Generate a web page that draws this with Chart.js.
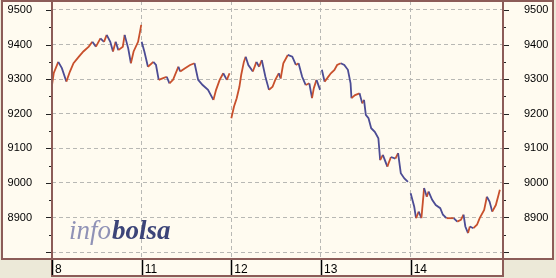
<!DOCTYPE html>
<html>
<head>
<meta charset="utf-8">
<script src="https://cdn.jsdelivr.net/npm/chart.js@4.4.1/dist/chart.umd.min.js"></script>
<style>
  html, body { margin: 0; padding: 0; background: #ece9d8; }
</style>
</head>
<body>
<canvas id="ibex" width="556" height="278"></canvas>
<script>
// Session labels (trading days) and y axis ticks
const days = ['8', '11', '12', '13', '14'];
const yTicks = [8800, 8900, 9000, 9100, 9200, 9300, 9400, 9500];
const yLabels = ['', '8900', '9000', '9100', '9200', '9300', '9400', '9500'];
const yMinorTicks = [8850, 8950, 9050, 9150, 9250, 9350, 9450];

// Intraday readings: position within the session (0..1) and index value
const pos8 = [0, .02, .07, .11, .16, .20, .24, .30, .35, .41, .45, .49, .54, .58, .61, .65, .68, .71, .74, .79, .81, .85, .88, .91, .96, .985, .995];
const val8 = [9283, 9318, 9350, 9332, 9293, 9322, 9346, 9365, 9380, 9394, 9408, 9394, 9418, 9408, 9428, 9408, 9380, 9408, 9384, 9394, 9428, 9389, 9346, 9380, 9408, 9442, 9457];

const pos11 = [0, .03, .07, .13, .16, .19, .24, .28, .31, .35, .41, .43, .48, .54, .59, .63, .68, .74, .80, .83, .87, .91, .95, .98];
const val11 = [9408, 9380, 9336, 9350, 9341, 9298, 9303, 9307, 9288, 9298, 9336, 9322, 9331, 9341, 9346, 9298, 9283, 9269, 9240, 9269, 9298, 9317, 9298, 9317];

const pos12 = [0, .03, .06, .09, .11, .14, .16, .19, .24, .28, .31, .34, .38, .42, .46, .49, .53, .55, .58, .63, .68, .72, .75, .79, .83, .87, .90, .92, .95, .99];
const val12 = [9187, 9221, 9245, 9278, 9312, 9350, 9365, 9341, 9322, 9350, 9336, 9355, 9307, 9269, 9278, 9298, 9317, 9302, 9346, 9370, 9365, 9341, 9346, 9307, 9283, 9288, 9245, 9274, 9298, 9269];

const pos13 = [.01, .04, .07, .11, .15, .18, .22, .26, .30, .33, .34, .38, .43, .46, .48, .50, .53, .56, .60, .64, .66, .69, .74, .78, .83, .86, .89, .93, .97];
const val13 = [9327, 9293, 9303, 9317, 9327, 9341, 9346, 9341, 9327, 9288, 9245, 9254, 9259, 9230, 9240, 9197, 9187, 9158, 9148, 9129, 9066, 9081, 9047, 9075, 9070, 9086, 9028, 9013, 9003];

const pos14 = [0, .04, .06, .09, .12, .15, .18, .20, .24, .28, .33, .36, .40, .44, .48, .52, .56, .59, .61, .64, .66, .70, .74, .77, .82, .85, .88, .91, .95, .98, .995];
const val14 = [8970, 8931, 8898, 8917, 8898, 8985, 8960, 8975, 8951, 8936, 8927, 8908, 8898, 8898, 8898, 8888, 8893, 8908, 8874, 8855, 8874, 8869, 8879, 8898, 8922, 8960, 8946, 8917, 8936, 8965, 8980];

const sessions = [[pos8, val8], [pos11, val11], [pos12, val12], [pos13, val13], [pos14, val14]];

const UP = '#c8502c';
const DOWN = '#4c4c94';
const FRAME = '#8c5c58';
const GRID = '#b8b8b4';
const PANEL = '#fffbf0';

// Panels, frame lines, tick marks and watermark
const framePlugin = {
  id: 'frame',
  beforeDraw(chart) {
    const { ctx, width, height, chartArea: a } = chart;
    ctx.save();
    ctx.fillStyle = '#ece9d8';
    ctx.fillRect(0, 0, width, height);
    ctx.fillStyle = PANEL;
    ctx.fillRect(1, 0, 553, a.bottom + 1);
    ctx.fillRect(a.left, a.bottom, a.right - a.left, 18);
    ctx.restore();
  },
  beforeDatasetsDraw(chart) {
    const { ctx } = chart;
    ctx.save();
    ctx.textBaseline = 'alphabetic';
    ctx.font = 'italic 27px "Liberation Serif"';
    ctx.fillStyle = '#9092b6';
    ctx.fillText('info', 69, 239);
    const w = ctx.measureText('info').width;
    ctx.font = 'italic bold 27px "Liberation Serif"';
    ctx.fillStyle = '#3c4478';
    ctx.fillText('bolsa', 69 + w + 1, 239);
    ctx.restore();
  },
  afterDraw(chart) {
    const { ctx, chartArea: a, scales } = chart;
    ctx.save();
    ctx.strokeStyle = FRAME;
    ctx.lineWidth = 2;
    ctx.strokeRect(2, 1, 551, a.bottom - 1);
    ctx.strokeRect(a.left, a.bottom, a.right - a.left, 17);
    ctx.beginPath();
    ctx.moveTo(a.left, 0);
    ctx.lineTo(a.left, a.bottom + 17);
    ctx.moveTo(a.right, 0);
    ctx.lineTo(a.right, a.bottom + 17);
    ctx.stroke();

    // day separators in the label strip
    ctx.strokeStyle = '#000';
    ctx.lineWidth = 1.5;
    ctx.beginPath();
    days.forEach((d, i) => {
      const x = Math.round(scales.x.getPixelForValue(i)) + 0.5;
      ctx.moveTo(x, a.bottom + 1);
      ctx.lineTo(x, a.bottom + 16);
    });
    ctx.stroke();

    // y tick marks on both axes
    ctx.lineWidth = 1;
    ctx.strokeStyle = '#222';
    ctx.beginPath();
    const mark = (v, len) => {
      const y = Math.round(scales.y.getPixelForValue(v)) + 0.5;
      ctx.moveTo(a.left - len - 1, y);
      ctx.lineTo(a.left - 1, y);
      ctx.moveTo(a.right + 1, y);
      ctx.lineTo(a.right + len + 1, y);
    };
    yTicks.forEach(v => mark(v, 5));
    yMinorTicks.forEach(v => mark(v, 2));
    ctx.stroke();
    ctx.restore();
  },
};

function fixTicks(values) {
  return scale => {
    scale.ticks = values.map(v => ({ value: v }));
  };
}

const labelFont = { family: '"Liberation Sans", Arial, sans-serif', size: 11 };
const yLabel = (v, i) => yLabels[i];

new Chart(document.getElementById('ibex'), {
  type: 'line',
  data: {
    datasets: sessions.map(([pos, vals], d) => ({
      label: days[d],
      data: vals.map((v, i) => ({ x: d + pos[i], y: v })),
      borderColor: UP,
      borderWidth: 1.8,
      pointRadius: 0,
      tension: 0,
      segment: {
        borderColor: c => (c.p1.parsed.y >= c.p0.parsed.y ? UP : DOWN),
      },
    })),
  },
  options: {
    responsive: false,
    animation: false,
    layout: { padding: { top: 1, left: 0, right: 0, bottom: 0 } },
    plugins: {
      legend: { display: false },
      tooltip: { enabled: false },
    },
    scales: {
      x: {
        type: 'linear',
        min: 0,
        max: 5.03,
        afterBuildTicks: fixTicks(days.map((d, i) => i)),
        afterFit: s => {
          s.height = 19;
          s.paddingLeft = 0;
          s.paddingRight = 0;
        },
        ticks: {
          callback: (v, i) => days[i],
          align: 'start',
          labelOffset: 3,
          padding: 3,
          maxRotation: 0,
          autoSkip: false,
          color: '#000',
          font: { family: labelFont.family, size: 12 },
        },
        grid: { color: GRID, drawTicks: false, lineWidth: 1 },
        border: { display: false, dash: [4, 3] },
      },
      y: {
        position: 'left',
        min: 8780,
        max: 9526,
        afterBuildTicks: fixTicks(yTicks),
        afterFit: s => {
          s.width = 52;
          s.paddingTop = 0;
          s.paddingBottom = 0;
        },
        ticks: { color: '#000', font: labelFont, padding: 20, callback: yLabel },
        grid: { color: GRID, drawTicks: false, lineWidth: 1 },
        border: { display: false, dash: [4, 3] },
      },
      y2: {
        position: 'right',
        min: 8780,
        max: 9526,
        afterBuildTicks: fixTicks(yTicks),
        afterFit: s => {
          s.width = 53;
          s.paddingTop = 0;
          s.paddingBottom = 0;
        },
        ticks: { color: '#000', font: labelFont, padding: 21, callback: yLabel },
        grid: { drawOnChartArea: false, drawTicks: false },
        border: { display: false },
      },
    },
  },
  plugins: [framePlugin],
});
</script>
</body>
</html>
